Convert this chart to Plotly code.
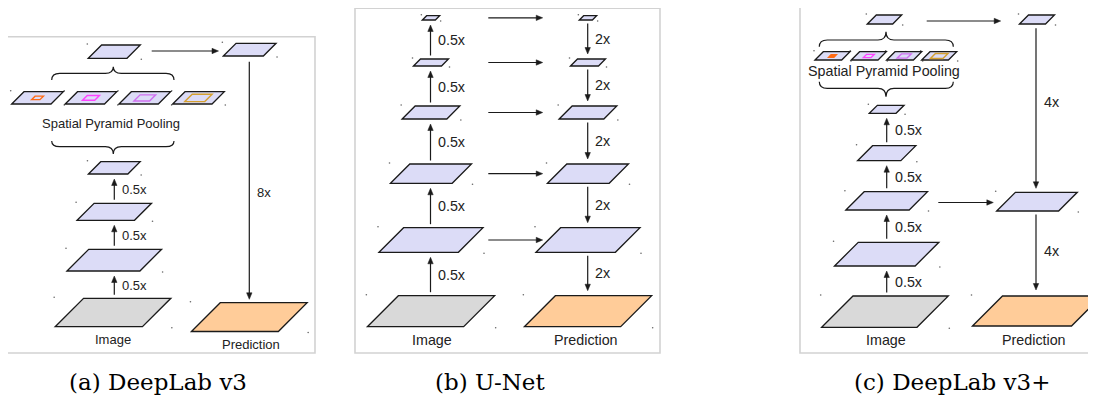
import math
import plotly.graph_objects as go

# ---------------- data (text & values of the diagram) ----------------
panel_titles = ["(a) DeepLab v3", "(b) U-Net", "(c) DeepLab v3+"]
input_label = "Image"
output_label = "Prediction"
pyramid_label = "Spatial Pyramid Pooling"

a_encoder_steps = ["0.5x", "0.5x", "0.5x"]
a_decoder_steps = ["8x"]
b_encoder_steps = ["0.5x", "0.5x", "0.5x", "0.5x", "0.5x"]
b_decoder_steps = ["2x", "2x", "2x", "2x", "2x"]
c_encoder_steps = ["0.5x", "0.5x", "0.5x", "0.5x"]
c_decoder_steps = ["4x", "4x"]

# relative size of the pooling window inside each pyramid branch (fraction of plane)
pool_window_frac = [0.23, 0.33, 0.42, 0.53]

# ---------------- styles / geometry ----------------
INK = "#1a1a1a"
TXT = "#222222"
FEAT = "#dcdcf7"
IMG = "#d9d9d9"
PRED = "#ffcc99"
FRAME = "#d2d2d2"
POOL_COLORS = ["#ff6a13", "#ff44ff", "#d070f0", "#d4a030"]
SANS = "Liberation Sans, Arial, sans-serif"
SERIF = "DejaVu Serif, serif"

# the page body has an 8px margin: the plot area is shrunk and the axis ranges
# shifted so that axis units coincide with window pixels
PAGE_MARGIN = 8
W_PX, H_PX = 1096, 401

shapes = []
annos = []
dots_x, dots_y = [], []


def plane(cx, t, b, W, fill, dots=True, lw=1.3):
    s = b - t
    x0, x1 = cx - W / 2, cx + W / 2
    path = f"M {x0:.2f},{b:.2f} L {x0 + s:.2f},{t:.2f} L {x1:.2f},{t:.2f} L {x1 - s:.2f},{b:.2f} Z"
    shapes.append(dict(type="path", path=path, xref="x", yref="y",
                       fillcolor=fill, line=dict(color=INK, width=lw), layer="above"))
    if dots:
        dots_x.extend([x0 - 1, x1 + 1])
        dots_y.extend([t - 1, b + 1])


def window(cx, cy, W, h, color, filled=False):
    t, b = cy - h / 2, cy + h / 2
    s = h
    x0, x1 = cx - W / 2, cx + W / 2
    path = f"M {x0:.2f},{b:.2f} L {x0 + s:.2f},{t:.2f} L {x1:.2f},{t:.2f} L {x1 - s:.2f},{b:.2f} Z"
    shapes.append(dict(type="path", path=path, xref="x", yref="y",
                       fillcolor=color if filled else "rgba(0,0,0,0)",
                       line=dict(color=color, width=1.4), layer="above"))


def arrow(x0, y0, x1, y1, hl=6.5, hw=2.7):
    dx, dy = x1 - x0, y1 - y0
    L = math.hypot(dx, dy)
    ux, uy = dx / L, dy / L
    bx, by = x1 - ux * hl, y1 - uy * hl
    px, py = -uy, ux
    shapes.append(dict(type="line", x0=x0, y0=y0, x1=bx + ux * 1, y1=by + uy * 1,
                       xref="x", yref="y", line=dict(color=INK, width=1.2), layer="above"))
    path = (f"M {x1:.2f},{y1:.2f} L {bx + px * hw:.2f},{by + py * hw:.2f} "
            f"L {bx - px * hw:.2f},{by - py * hw:.2f} Z")
    shapes.append(dict(type="path", path=path, xref="x", yref="y",
                       fillcolor=INK, line=dict(color=INK, width=0.5), layer="above"))


def text(x, y, s, size, anchor="center", font=SANS, color=TXT):
    annos.append(dict(x=x, y=y, text=s, showarrow=False, xref="x", yref="y",
                      xanchor=anchor, yanchor="middle",
                      font=dict(family=font, size=size, color=color)))


def brace(x0, x1, xc, y_end, y_mid, y_tip, r=8):
    path = (f"M {x0},{y_end} Q {x0},{y_mid} {x0 + r},{y_mid} L {xc - r},{y_mid} "
            f"Q {xc},{y_mid} {xc},{y_tip} Q {xc},{y_mid} {xc + r},{y_mid} "
            f"L {x1 - r},{y_mid} Q {x1},{y_mid} {x1},{y_end}")
    shapes.append(dict(type="path", path=path, xref="x", yref="y",
                       line=dict(color=INK, width=1.2), layer="above"))


def frame(x0, y0, x1, y1):
    shapes.append(dict(type="rect", x0=x0, y0=y0, x1=x1, y1=y1, xref="x", yref="y",
                       line=dict(color=FRAME, width=1.6), fillcolor="rgba(0,0,0,0)", layer="below"))


def up_chain(cx, levels, labels, size, tail_gap=3.5, head_gap=5, lab_dx=6):
    for i, lab in enumerate(labels):
        t_low = levels[i][0]
        b_up = levels[i + 1][1]
        y0, y1 = t_low - tail_gap, b_up + head_gap
        arrow(cx, y0, cx, y1)
        text(cx + lab_dx, (y0 + y1) / 2, lab, size, anchor="left")


def down_chain(cx, levels, labels, size, tail_gap=3.5, head_gap=5, lab_dx=6):
    for i, lab in enumerate(labels):
        b_hi = levels[i][1]
        t_low = levels[i + 1][0]
        y0, y1 = b_hi + tail_gap, t_low - head_gap
        arrow(cx, y0, cx, y1)
        text(cx + lab_dx, (y0 + y1) / 2, lab, size, anchor="left")


# ================= panel (a) DeepLab v3 =================
fs_a = 13
frame(5, 36.7, 315, 353)
colA, colA2 = 114.3, 249.3
a_levels = [(298.3, 326.7, 115.7), (249.3, 271, 94.6), (203.3, 220.3, 74.4), (161.7, 174, 51.7)]
for k, (t, b, W) in enumerate(a_levels):
    plane(colA - 1.3 if k == 0 else colA, t, b, W, IMG if k == 0 else FEAT)
up_chain(colA, a_levels, a_encoder_steps, fs_a)
text(113, 339.3, input_label, fs_a)

spp_a_cx = [37.5, 91.0, 144.8, 198.5]
for i, cx in enumerate(spp_a_cx):
    plane(cx, 91.7, 104, 51.6, FEAT)
    window(cx, 97.9, 51.6 * pool_window_frac[i], 3.5 + 1.3 * i, POOL_COLORS[i])
brace(51.7, 174, 113.3, 80, 73.3, 66.7)
text(110.8, 123.3, pyramid_label, fs_a)
brace(51.7, 174, 113.3, 141, 146.7, 154)
plane(colA, 45, 58.3, 52, FEAT)

plane(colA2 + 0.4, 43.3, 56, 52.7, FEAT)
arrow(151.7, 51, 218.5, 51)
arrow(colA2, 61.7, colA2, 299.3)
text(colA2 + 6, 192.3, a_decoder_steps[0], fs_a, anchor="left")
plane(colA2, 302.7, 331.5, 115.7, PRED)
text(251, 344, output_label, fs_a)
text(158, 381.7, panel_titles[0], 23, font=SERIF, color="#000000")

# ================= panel (b) U-Net =================
fs_b = 14.3
frame(355, 8.3, 660, 353)
colB, colB2 = 430.5, 587.7
b_levels = [(295.7, 326.7, 127.3), (227.7, 252.3, 104), (164, 183.3, 81),
            (106, 119, 57.7), (59, 66, 35), (15.7, 20, 17.3)]
for k, (t, b, W) in enumerate(b_levels):
    plane(colB + 0.5, t, b, W, IMG if k == 0 else FEAT)
    plane(colB2 + 0.3, t, b, W, PRED if k == 0 else FEAT)
    if k > 0:
        arrow(488.3, (t + b) / 2, 542.7, (t + b) / 2)
up_chain(colB, b_levels, b_encoder_steps, fs_b, lab_dx=5.5)
down_chain(colB2, list(reversed(b_levels)), b_decoder_steps, fs_b, lab_dx=5.5)
text(432.3, 340, input_label, fs_b)
text(585.7, 340, output_label, fs_b)
text(490, 381.7, panel_titles[1], 23, font=SERIF, color="#000000")

# ================= panel (c) DeepLab v3+ =================
fs_c = 14.3
frame(800, 7.3, 1130, 353)
colC, colC2 = 886.7, 1037
c_levels = [(296, 327.3, 126.6), (242.3, 266, 104.3), (191.7, 210, 81.6),
            (145.7, 160.7, 58.3), (105.3, 113.3, 34.7)]
for k, (t, b, W) in enumerate(c_levels):
    plane(885 if k == 0 else colC, t, b, W, IMG if k == 0 else FEAT)
up_chain(colC, c_levels, c_encoder_steps, fs_c, tail_gap=3.5, head_gap=5, lab_dx=6.5)
text(886, 340, input_label, fs_c)

spp_c_cx = [832.5, 868.8, 904.2, 939.2]
for i, cx in enumerate(spp_c_cx):
    plane(cx, 51.7, 60, 35, FEAT)
    window(cx, 56, 35 * pool_window_frac[i] * 0.95, 2.4 + 0.9 * i, POOL_COLORS[i], filled=(i == 0))
brace(819.3, 953.3, 886, 46.7, 40, 31.7)
text(884.2, 71, pyramid_label, fs_c)
brace(819.3, 953.3, 886, 81.7, 88.3, 96.7)
plane(884.5, 15, 24, 34.4, FEAT)

plane(colC2, 15, 24, 35, FEAT)
arrow(926.7, 21, 1000.7, 21)
plane(colC2, 192.3, 211, 80.6, FEAT)
arrow(938.3, 202.5, 993.3, 202.5)
arrow(colC2 - 1, 28.3, colC2 - 1, 188.3)
text(1041.7, 101.7, c_decoder_steps[0], fs_c, anchor="left")
arrow(colC2 - 1, 214.5, colC2 - 1, 290)
text(1041.7, 251, c_decoder_steps[1], fs_c, anchor="left")
plane(colC2, 296, 326, 129, PRED)
text(1034.3, 340, output_label, fs_c)
text(951.7, 381.7, panel_titles[2], 23, font=SERIF, color="#000000")

# ---------------- figure ----------------
fig = go.Figure()
fig.add_trace(go.Scatter(x=dots_x, y=dots_y, mode="markers",
                         marker=dict(size=1.6, color="#666666"), hoverinfo="skip",
                         showlegend=False))
fig.update_layout(
    width=W_PX - PAGE_MARGIN, height=H_PX - PAGE_MARGIN,
    margin=dict(l=0, r=0, t=0, b=0, pad=0),
    paper_bgcolor="white", plot_bgcolor="white",
    shapes=shapes, annotations=annos, showlegend=False,
    xaxis=dict(range=[PAGE_MARGIN, W_PX], visible=False, showgrid=False,
               zeroline=False, fixedrange=True),
    yaxis=dict(range=[H_PX, PAGE_MARGIN], visible=False, showgrid=False,
               zeroline=False, fixedrange=True),
)
fig.write_html("out.html")
